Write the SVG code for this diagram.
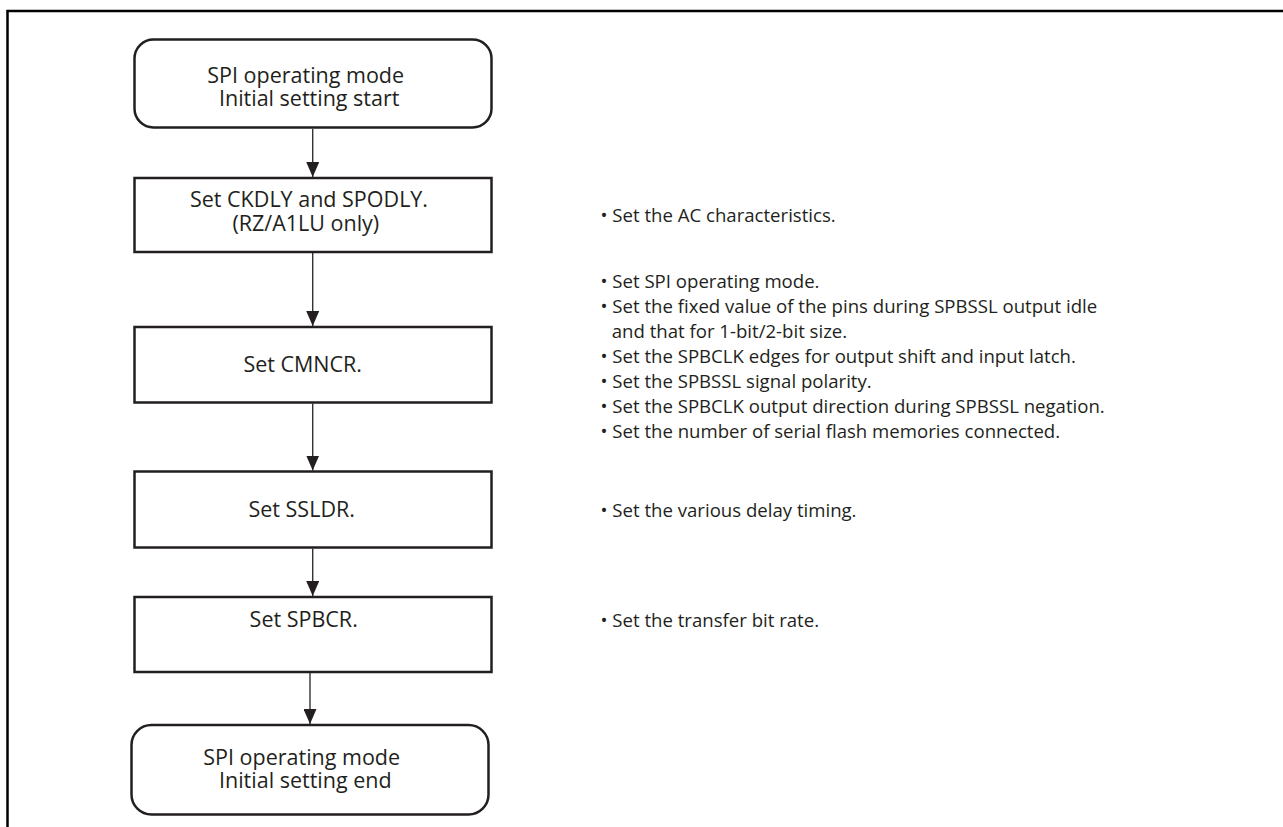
<svg xmlns="http://www.w3.org/2000/svg" width="1283" height="827" viewBox="0 0 1283 827">
  <style>
    .box { fill: #ffffff; stroke: #231f20; stroke-width: 2.5; }
    .lbl { font-family: "Open Sans", "Noto Sans", sans-serif; font-size: 21.5px; fill: #231f20; text-anchor: middle; }
    .note { font-family: "Open Sans", "Noto Sans", sans-serif; font-size: 18.6px; fill: #231f20; }
    .conn { stroke: #333333; stroke-width: 1.4; fill: none; marker-end: url(#arr); }
  </style>
  <defs>
    <marker id="arr" markerUnits="userSpaceOnUse" markerWidth="15" markerHeight="13" refX="15" refY="6.5" orient="auto" viewBox="0 0 15 13">
      <path d="M0,0 L15,6.5 L0,13 Z" fill="#231f20"/>
    </marker>
  </defs>
  <rect width="1283" height="827" fill="#ffffff"/>
  <path d="M7.5,827 V11 H1283" fill="none" stroke="#000000" stroke-width="2.5"/>

  <g id="connectors">
    <line class="conn" x1="312.7" y1="129" x2="312.7" y2="177"/>
    <line class="conn" x1="312.7" y1="253" x2="312.7" y2="326"/>
    <line class="conn" x1="312.7" y1="403.5" x2="312.7" y2="470.5"/>
    <line class="conn" x1="312.7" y1="548.5" x2="312.7" y2="596"/>
    <line class="conn" x1="310" y1="673" x2="310" y2="724"/>
  </g>

  <g id="start">
    <rect class="box" x="134.5" y="39.5" width="357" height="88" rx="19" ry="19"/>
    <text class="lbl" y="82.5"><tspan x="305.7">SPI operating mode</tspan><tspan x="309.2" dy="23">Initial setting start</tspan></text>
  </g>

  <g id="ckdly">
    <rect class="box" x="134.5" y="178" width="357" height="74"/>
    <text class="lbl" y="207"><tspan x="309">Set CKDLY and SPODLY.</tspan><tspan x="305.8" dy="23.5">(RZ/A1LU only)</tspan></text>
  </g>

  <g id="cmncr">
    <rect class="box" x="134.5" y="327" width="357" height="75.5"/>
    <text class="lbl" x="302.7" y="371.7">Set CMNCR.</text>
  </g>

  <g id="ssldr">
    <rect class="box" x="134.5" y="471.5" width="357" height="76"/>
    <text class="lbl" x="301.7" y="517">Set SSLDR.</text>
  </g>

  <g id="spbcr">
    <rect class="box" x="134.5" y="597" width="357" height="75"/>
    <text class="lbl" x="303.7" y="627">Set SPBCR.</text>
  </g>

  <g id="end">
    <rect class="box" x="131.5" y="725" width="357" height="89.5" rx="20" ry="20"/>
    <text class="lbl" y="765"><tspan x="301.7">SPI operating mode</tspan><tspan x="305.3" dy="23">Initial setting end</tspan></text>
  </g>

  <g id="notes">
    <text class="note" x="600.5" y="221.7">• Set the AC characteristics.</text>
    <text class="note" y="288.3"><tspan x="600.5">• Set SPI operating mode.</tspan><tspan x="600.5" dy="25">• Set the fixed value of the pins during SPBSSL output idle</tspan><tspan x="611.7" dy="25">and that for 1-bit/2-bit size.</tspan><tspan x="600.5" dy="25">• Set the SPBCLK edges for output shift and input latch.</tspan><tspan x="600.5" dy="25">• Set the SPBSSL signal polarity.</tspan><tspan x="600.5" dy="25">• Set the SPBCLK output direction during SPBSSL negation.</tspan><tspan x="600.5" dy="24.7">• Set the number of serial flash memories connected.</tspan></text>
    <text class="note" x="600.5" y="517">• Set the various delay timing.</text>
    <text class="note" x="600.5" y="627">• Set the transfer bit rate.</text>
  </g>
</svg>
